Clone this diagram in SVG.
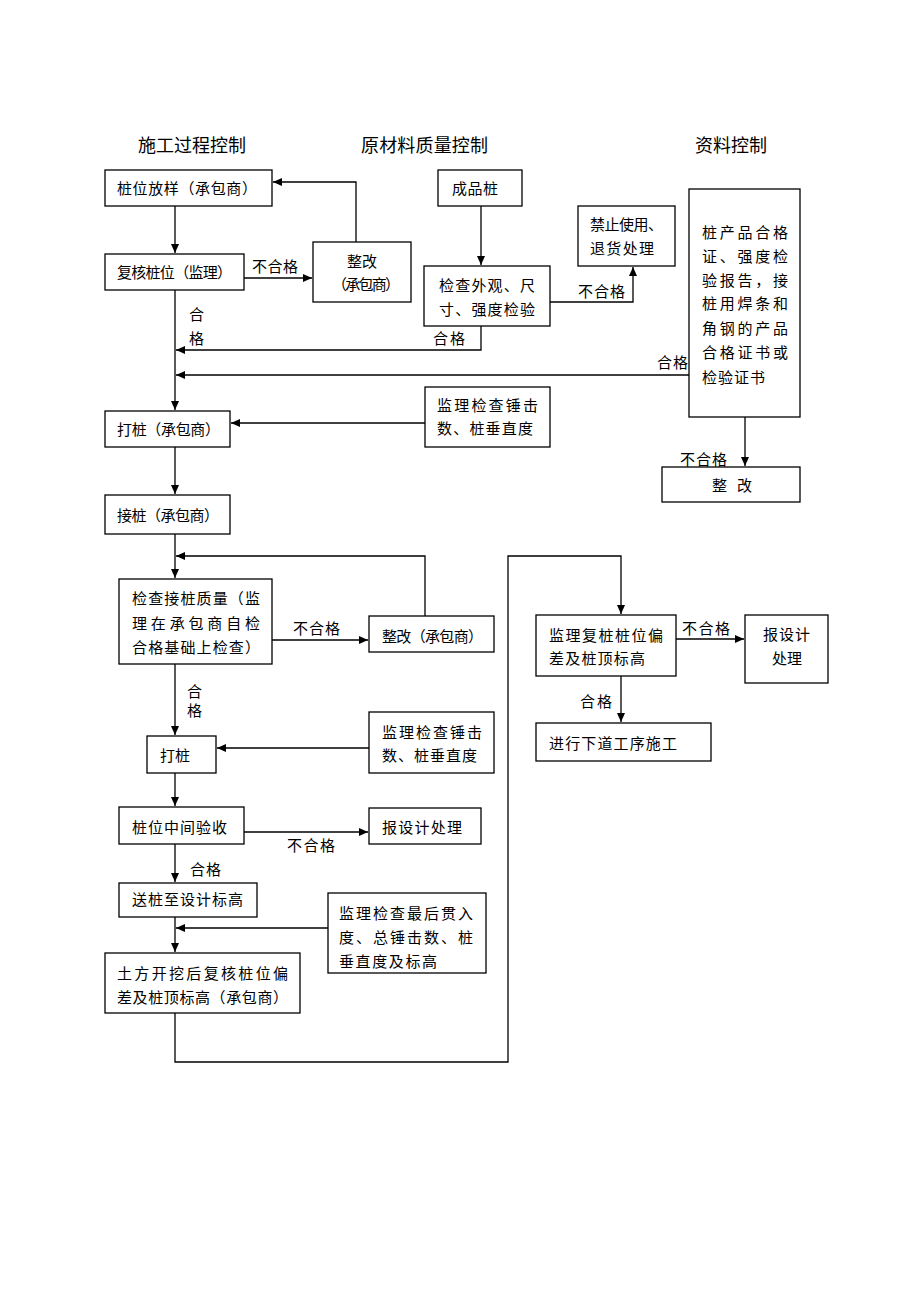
<svg xmlns="http://www.w3.org/2000/svg" width="920" height="1302" viewBox="0 0 920 1302">
<defs>
<marker id="ah" markerUnits="userSpaceOnUse" markerWidth="10" markerHeight="8" refX="9" refY="4" orient="auto">
<path d="M0,0 L9,4 L0,8 z" fill="#000"/>
</marker>
<style>
text{font-family:"Noto Sans CJK SC","Noto Sans CJK JP",sans-serif;font-size:15px;fill:#000;}
.t{font-size:18px;}
.b{fill:#fff;stroke:#000;stroke-width:1.3;}
.c{fill:none;stroke:#000;stroke-width:1.3;}
.a{marker-end:url(#ah);}
</style>
</defs>
<rect width="920" height="1302" fill="#fff"/>

<g id="titles">
<text class="t" x="138" y="152" textLength="108" lengthAdjust="spacing">施工过程控制</text>
<text class="t" x="361" y="152" textLength="127" lengthAdjust="spacing">原材料质量控制</text>
<text class="t" x="695" y="152" textLength="72" lengthAdjust="spacing">资料控制</text>
</g>

<g id="connectors">
<path class="c a" d="M175,206 V253"/>
<path class="c a" d="M244,278 H312"/>
<path class="c a" d="M356,242 V182 H273"/>
<path class="c a" d="M175,290 V410"/>
<path class="c a" d="M481,206 V265"/>
<path class="c a" d="M550,302 H633 V267"/>
<path class="c a" d="M481,326 V350 H176"/>
<path class="c a" d="M689,375 H176"/>
<path class="c a" d="M425,423 H231"/>
<path class="c a" d="M745,417 V466"/>
<path class="c a" d="M175,447 V494"/>
<path class="c a" d="M175,534 V578"/>
<path class="c a" d="M425,616 V556 H176"/>
<path class="c a" d="M272,640 H368"/>
<path class="c a" d="M175,664 V735"/>
<path class="c a" d="M369,748 H217"/>
<path class="c a" d="M175,773 V806"/>
<path class="c a" d="M244,832 H368"/>
<path class="c a" d="M175,844 V882"/>
<path class="c a" d="M175,917 V952"/>
<path class="c a" d="M328,928 H176"/>
<path class="c a" d="M175,1013 V1062 H508 V556 H621 V614"/>
<path class="c a" d="M676,639 H744"/>
<path class="c a" d="M621,676 V722"/>
</g>

<g id="labels">
<text x="252" y="272" textLength="46" lengthAdjust="spacing">不合格</text>
<text x="189" y="320">合</text>
<text x="189" y="344">格</text>
<text x="433" y="344" textLength="32" lengthAdjust="spacing">合格</text>
<text x="578" y="297" textLength="47" lengthAdjust="spacing">不合格</text>
<text x="657" y="368" textLength="31" lengthAdjust="spacing">合格</text>
<text x="680" y="465" textLength="47" lengthAdjust="spacing">不合格</text>
<text x="293" y="634" textLength="47" lengthAdjust="spacing">不合格</text>
<text x="187" y="697">合</text>
<text x="187" y="716">格</text>
<text x="287" y="851" textLength="48" lengthAdjust="spacing">不合格</text>
<text x="190" y="875" textLength="31" lengthAdjust="spacing">合格</text>
<text x="682" y="634" textLength="48" lengthAdjust="spacing">不合格</text>
<text x="580" y="707" textLength="32" lengthAdjust="spacing">合格</text>
</g>

<g id="n1">
<rect class="b" x="105" y="170" width="167" height="36"/>
<text x="117" y="193.5" textLength="140" lengthAdjust="spacing">桩位放样（承包商）</text>
</g>
<g id="n2">
<rect class="b" x="105" y="254" width="139" height="36"/>
<text x="117" y="277.5" textLength="115" lengthAdjust="spacing">复核桩位（监理）</text>
</g>
<g id="n3">
<rect class="b" x="313" y="242" width="98" height="60"/>
<text x="347" y="266.5" textLength="30" lengthAdjust="spacing">整改</text>
<text x="332" y="289.5" textLength="68" lengthAdjust="spacing">（承包商）</text>
</g>
<g id="n4">
<rect class="b" x="438" y="170" width="84" height="36"/>
<text x="452" y="193.5" textLength="46" lengthAdjust="spacing">成品桩</text>
</g>
<g id="n5">
<rect class="b" x="424" y="266" width="126" height="60"/>
<text x="439" y="290.5" textLength="96" lengthAdjust="spacing">检查外观、尺</text>
<text x="439" y="314.5" textLength="96" lengthAdjust="spacing">寸、强度检验</text>
</g>
<g id="n6">
<rect class="b" x="578" y="206" width="97" height="60"/>
<text x="590" y="229.5" textLength="73" lengthAdjust="spacing">禁止使用、</text>
<text x="590" y="253.5" textLength="64" lengthAdjust="spacing">退货处理</text>
</g>
<g id="n7">
<rect class="b" x="689" y="189" width="111" height="228"/>
<text x="702" y="237.5" textLength="86" lengthAdjust="spacing">桩产品合格</text>
<text x="702" y="261.5" textLength="86" lengthAdjust="spacing">证、强度检</text>
<text x="702" y="285.5" textLength="86" lengthAdjust="spacing">验报告，接</text>
<text x="702" y="308.5" textLength="86" lengthAdjust="spacing">桩用焊条和</text>
<text x="702" y="333.5" textLength="86" lengthAdjust="spacing">角钢的产品</text>
<text x="702" y="357.5" textLength="86" lengthAdjust="spacing">合格证书或</text>
<text x="702" y="382.5" textLength="63" lengthAdjust="spacing">检验证书</text>
</g>
<g id="n8">
<rect class="b" x="425" y="387" width="125" height="60"/>
<text x="437" y="410.5" textLength="101" lengthAdjust="spacing">监理检查锤击</text>
<text x="437" y="433.5" textLength="96" lengthAdjust="spacing">数、桩垂直度</text>
</g>
<g id="n9">
<rect class="b" x="105" y="411" width="125" height="36"/>
<text x="117" y="434.5" textLength="103" lengthAdjust="spacing">打桩（承包商）</text>
</g>
<g id="n10">
<rect class="b" x="662" y="467" width="138" height="35"/>
<text x="712" y="490.5" textLength="40" lengthAdjust="spacing">整 改</text>
</g>
<g id="n11">
<rect class="b" x="105" y="495" width="125" height="39"/>
<text x="117" y="520.5" textLength="102" lengthAdjust="spacing">接桩（承包商）</text>
</g>
<g id="n12">
<rect class="b" x="119" y="579" width="153" height="85"/>
<text x="132" y="603.5" textLength="128" lengthAdjust="spacing">检查接桩质量（监</text>
<text x="132" y="628.5" textLength="128" lengthAdjust="spacing">理在承包商自检</text>
<text x="132" y="652.5" textLength="128" lengthAdjust="spacing">合格基础上检查）</text>
</g>
<g id="n13">
<rect class="b" x="369" y="616" width="125" height="36"/>
<text x="382" y="641.5" textLength="101" lengthAdjust="spacing">整改（承包商）</text>
</g>
<g id="n14">
<rect class="b" x="147" y="736" width="69" height="37"/>
<text x="160" y="760.5" textLength="30" lengthAdjust="spacing">打桩</text>
</g>
<g id="n15">
<rect class="b" x="369" y="712" width="125" height="61"/>
<text x="382" y="737.5" textLength="100" lengthAdjust="spacing">监理检查锤击</text>
<text x="382" y="760.5" textLength="95" lengthAdjust="spacing">数、桩垂直度</text>
</g>
<g id="n16">
<rect class="b" x="119" y="807" width="125" height="37"/>
<text x="132" y="832.5" textLength="95" lengthAdjust="spacing">桩位中间验收</text>
</g>
<g id="n17">
<rect class="b" x="369" y="808" width="112" height="36"/>
<text x="382" y="832.5" textLength="80" lengthAdjust="spacing">报设计处理</text>
</g>
<g id="n18">
<rect class="b" x="119" y="883" width="138" height="34"/>
<text x="132" y="904.5" textLength="111" lengthAdjust="spacing">送桩至设计标高</text>
</g>
<g id="n19">
<rect class="b" x="328" y="893" width="158" height="80"/>
<text x="339" y="918.5" textLength="134" lengthAdjust="spacing">监理检查最后贯入</text>
<text x="339" y="942.5" textLength="134" lengthAdjust="spacing">度、总锤击数、桩</text>
<text x="339" y="966.5" textLength="98" lengthAdjust="spacing">垂直度及标高</text>
</g>
<g id="n20">
<rect class="b" x="105" y="953" width="195" height="60"/>
<text x="117" y="978.5" textLength="171" lengthAdjust="spacing">土方开挖后复核桩位偏</text>
<text x="117" y="1002.5" textLength="171" lengthAdjust="spacing">差及桩顶标高（承包商）</text>
</g>
<g id="n21">
<rect class="b" x="536" y="615" width="140" height="61"/>
<text x="549" y="640.5" textLength="114" lengthAdjust="spacing">监理复桩桩位偏</text>
<text x="549" y="663.5" textLength="96" lengthAdjust="spacing">差及桩顶标高</text>
</g>
<g id="n22">
<rect class="b" x="745" y="615" width="83" height="68"/>
<text x="763" y="639.5" textLength="47" lengthAdjust="spacing">报设计</text>
<text x="772" y="663.5" textLength="30" lengthAdjust="spacing">处理</text>
</g>
<g id="n23">
<rect class="b" x="536" y="723" width="175" height="38"/>
<text x="549" y="748.5" textLength="128" lengthAdjust="spacing">进行下道工序施工</text>
</g>
</svg>
